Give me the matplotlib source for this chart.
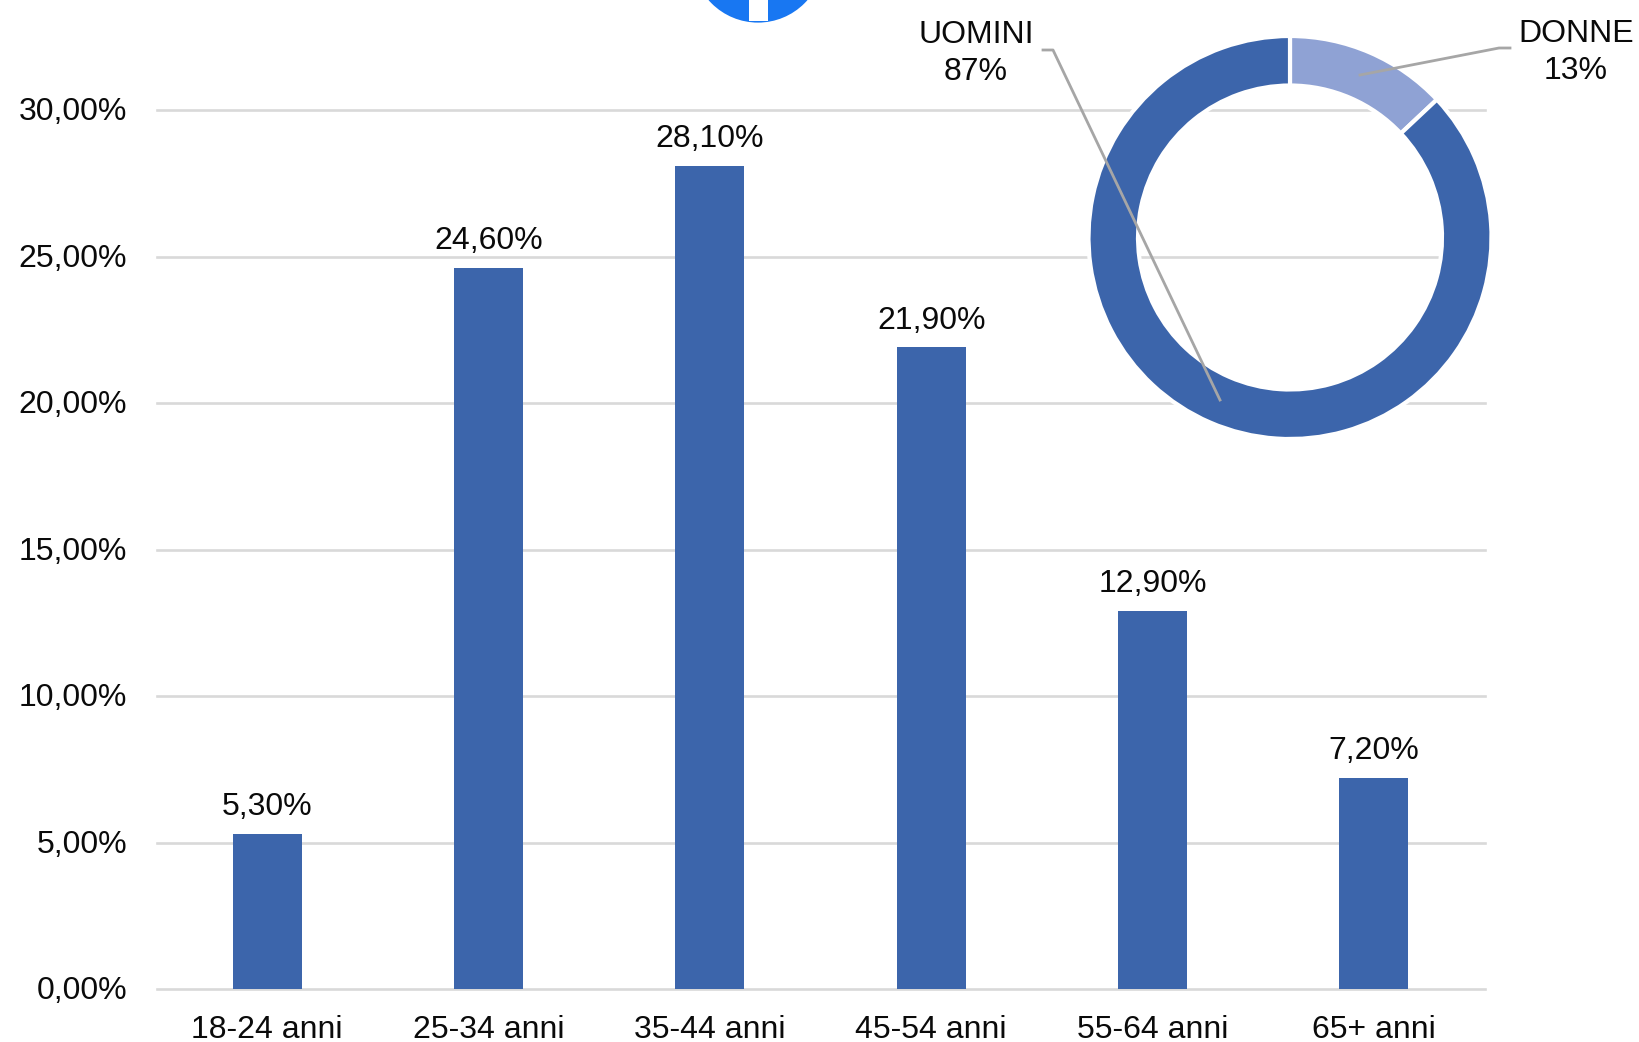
import matplotlib
matplotlib.use("Agg")
import matplotlib.pyplot as plt
from matplotlib.patches import Circle, Rectangle
from matplotlib.transforms import ScaledTranslation

categories = ["18-24 anni", "25-34 anni", "35-44 anni", "45-54 anni", "55-64 anni", "65+ anni"]
values = [5.3, 24.6, 28.1, 21.9, 12.9, 7.2]
yticks = [0, 5, 10, 15, 20, 25, 30]
gender_labels = ["DONNE", "UOMINI"]
gender_values = [13, 87]

W, H = 1639, 1042
BLUE, LIGHT, GRID, LEADER = "#3C65AB", "#8FA2D4", "#D9D9D9", "#A6A6A6"
FS = 23
INK = "#0A0A0A"
plt.rcParams["font.family"] = ["Liberation Sans", "DejaVu Sans"]
fmt = lambda v: f"{v:.2f}".replace(".", ",") + "%"

fig = plt.figure(figsize=(W / 100, H / 100), dpi=100, facecolor="white")

def box(l, t, r, b):
    return [l / W, 1 - b / H, (r - l) / W, (b - t) / H]

# bars
ax = fig.add_axes(box(156.5, 110, 1484.5, 989))
ax.set_xlim(-0.5, 5.5)
ax.set_ylim(0, 30)
ax.set_axisbelow(True)
ax.yaxis.grid(True, color=GRID, lw=1.9)
ax.bar(range(len(values)), values, width=0.313, color=BLUE, zorder=3)
for s in ax.spines.values():
    s.set_visible(False)
ax.set_yticks(yticks, [fmt(v) for v in yticks], fontsize=FS, color=INK)
ax.set_xticks(range(len(categories)), categories, fontsize=FS, color=INK)
ax.tick_params(axis="y", length=0, pad=21)
ax.tick_params(axis="x", length=0, pad=19)
for gl in ax.get_ygridlines():
    gl.set_clip_on(False)
up = ScaledTranslation(0, 1 / 72, fig.dpi_scale_trans)
for lab in ax.get_yticklabels():
    lab.set_transform(lab.get_transform() + up)
for i, v in enumerate(values):
    ax.annotate(fmt(v), (i, v), xytext=(0, 13.5), textcoords="offset points",
                ha="center", va="baseline", fontsize=FS, color=INK)

# overlay in pixel coordinates: logo, leader lines, donut labels
ov = fig.add_axes([0, 0, 1, 1], zorder=5)
ov.set_xlim(0, W)
ov.set_ylim(H, 0)
ov.axis("off")
ov.patch.set_alpha(0)
ov.add_patch(Circle((758, -43), 65.6, color="#1877F2", lw=0))
ov.add_patch(Rectangle((749, -10), 19, 31, color="white", lw=0))

# donut
cx, cy, R = 1290, 237.5, 201.5
pie = fig.add_axes(box(cx - R, cy - R, cx + R, cy + R), zorder=4)
pie.pie(gender_values, colors=[LIGHT, BLUE], startangle=90, counterclock=False, radius=1,
        wedgeprops=dict(width=49.5 / R, edgecolor="white", linewidth=3))
pie.set_xlim(-1, 1)
pie.set_ylim(-1, 1)
pie.set_aspect("equal")
pie.patch.set_alpha(0)

ov.plot([1043, 1053, 1220], [50, 50, 400], color=LEADER, lw=2, zorder=6)
ov.plot([1510, 1499, 1360], [48, 48, 75], color=LEADER, lw=2, zorder=6)
for name, val, x, y in [(gender_labels[0], gender_values[0], 1576, 52.5),
                        (gender_labels[1], gender_values[1], 976, 53.5)]:
    ov.text(x, y, f"{name}\n{val}%", ha="center", va="center", fontsize=FS,
            linespacing=1.28, color=INK, zorder=7)

fig.savefig("out.png", dpi=100)
